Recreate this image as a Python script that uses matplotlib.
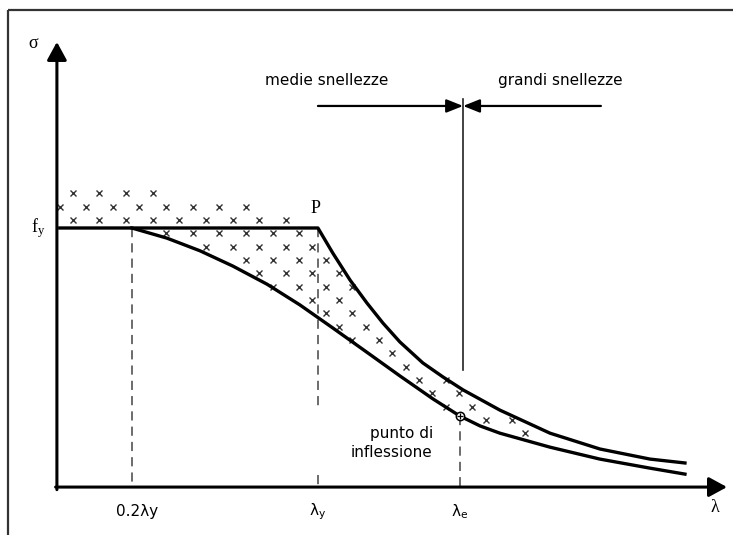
import numpy as np
import matplotlib
matplotlib.use('Agg')
import matplotlib.pyplot as plt
from matplotlib.path import Path

# schematic buckling curve, units: lambda/lambda_y on x, sigma/f_y on y
lam_02 = 0.287
lam_y = 1.0
lam_e = 1.544
fy = 1.0

# upper curve (Eulero), starting at P
upper_x = [1.000, 1.057, 1.123, 1.188, 1.249, 1.314, 1.402, 1.479, 1.556, 1.697, 1.889, 2.080, 2.272, 2.406]
upper_y = [1.000, 0.903, 0.799, 0.710, 0.633, 0.560, 0.479, 0.425, 0.375, 0.297, 0.208, 0.147, 0.108, 0.093]

# lower curve (real column), starting at 0.2 lambda_y
lower_x = [0.287, 0.421, 0.548, 0.674, 0.805, 0.931, 1.057, 1.188, 1.314, 1.441, 1.544,
           1.621, 1.697, 1.889, 2.080, 2.272, 2.406]
lower_y = [1.000, 0.961, 0.912, 0.853, 0.783, 0.703, 0.614, 0.520, 0.429, 0.340, 0.274,
           0.236, 0.208, 0.154, 0.108, 0.073, 0.050]

tick_pos = [lam_02 + 0.02, lam_y, lam_e]
tick_lab = ['0.2λy', r'λ$_\mathregular{y}$', r'λ$_\mathregular{e}$']

x_max = 2.567
y_max = 1.718
x_fy_start = 0.011
sep_x = 1.556
sep_top, sep_bot = 1.498, 0.452
arr_y = 1.471
arr_left, arr_right = 1.0, 2.084

fig = plt.figure(figsize=(7.33, 5.35), dpi=100)
ax = fig.add_axes([0, 0, 1, 1])
ax.set_xlim(-0.218, 2.590)
ax.set_ylim(-0.185, 1.880)
ax.axis('off')

# frame (top and left only)
ax.plot([-0.188, 2.590], [1.842, 1.842], color='#333333', lw=1.6, solid_capstyle='butt')
ax.plot([-0.188, -0.188], [1.842, -0.185], color='#333333', lw=1.6, solid_capstyle='butt')

# axes with arrows
head = '-|>,head_length=1.1,head_width=0.6'
ax.annotate('', xy=(0, y_max), xytext=(0, -0.01),
            arrowprops=dict(arrowstyle=head, lw=2.2, color='black', shrinkA=0, shrinkB=0))
ax.annotate('', xy=(x_max, 0), xytext=(-0.005, 0),
            arrowprops=dict(arrowstyle=head, lw=2.2, color='black', shrinkA=0, shrinkB=0))

# hatch of x marks
def lattice_inside(verts):
    p = Path(verts)
    pts = []
    for j in range(-4, 20):
        yy = 1.031 - 0.0515 * j
        for k in range(-1, 25):
            xx = 0.061 + 0.102 * k + 0.051 * (j % 2)
            pts.append((xx, yy))
    pts = np.array(pts)
    return pts[p.contains_points(pts)]

band = [(0.0, 1.0), (0.0, 1.16), (0.41, 1.16), (0.41, 1.10), (0.78, 1.10),
        (0.78, 1.05), (0.95, 1.05), (0.95, 1.0)]
n_up = 11
n_lo = 14
between = list(zip(upper_x[:n_up], upper_y[:n_up])) + \
    list(zip(lower_x[:n_lo], lower_y[:n_lo]))[::-1]
for verts in [band, between]:
    pts = lattice_inside(verts)
    pts = pts[pts[:, 0] < 1.85]
    ax.plot(pts[:, 0], pts[:, 1], 'x', ms=5, mew=1.0, color='#333333', zorder=2)

# curves
ax.plot([x_fy_start] + upper_x, [fy] + upper_y, color='black', lw=2.4,
        solid_joinstyle='round', zorder=3)
ax.plot(lower_x, lower_y, color='black', lw=2.4, solid_joinstyle='round', zorder=3)

# dashed verticals
dash = dict(color='#444444', lw=1.1, ls=(0, (6, 4)))
ax.plot([lam_02, lam_02], [fy, 0], **dash)
ax.plot([lam_y, lam_y], [fy, 0.297], **dash)
ax.plot([lam_y, lam_y], [0.046, 0], **dash)
ax.plot([lam_e, lam_e], [0.274, 0], **dash)

# inflection point
ax.plot([lam_e], [0.274], 'o', ms=6, mfc='white', mec='black', mew=1.1, zorder=4)
ax.plot([lam_e], [0.274], '+', ms=5, mew=0.9, color='black', zorder=5)

# separator and range arrows
ax.plot([sep_x, sep_x], [sep_top, sep_bot], color='#222222', lw=1.2)
small = '-|>,head_length=1.0,head_width=0.4'
ax.annotate('', xy=(sep_x, arr_y), xytext=(arr_left, arr_y),
            arrowprops=dict(arrowstyle=small, lw=1.6, color='black', shrinkA=0, shrinkB=0))
ax.annotate('', xy=(sep_x, arr_y), xytext=(arr_right, arr_y),
            arrowprops=dict(arrowstyle=small, lw=1.6, color='black', shrinkA=0, shrinkB=0))

sans = 'DejaVu Sans'
serif = 'Liberation Serif'
ax.text(1.034, 1.571, 'medie snellezze', fontsize=11, family=sans, ha='center', va='center')
ax.text(1.927, 1.571, 'grandi snellezze', fontsize=11, family=sans, ha='center', va='center')
ax.text(1.440, 0.170, 'punto di\ninflessione', fontsize=11, family=sans,
        ha='right', va='center', linespacing=1.35)

ax.text(-0.092, 1.712, 'σ', fontsize=13, family=serif, ha='center', va='center')
ax.text(-0.070, 1.0, r'$\mathregular{f_y}$', fontsize=13, family=serif, ha='center', va='center')
ax.text(0.992, 1.075, 'P', fontsize=13, family=serif, ha='center', va='center')
ax.text(2.521, -0.080, 'λ', fontsize=13, family=serif, ha='center', va='center')

for p, lab in zip(tick_pos, tick_lab):
    ax.text(p, -0.095, lab, fontsize=11, family=sans, ha='center', va='center')

fig.savefig('out.png', dpi=100)
